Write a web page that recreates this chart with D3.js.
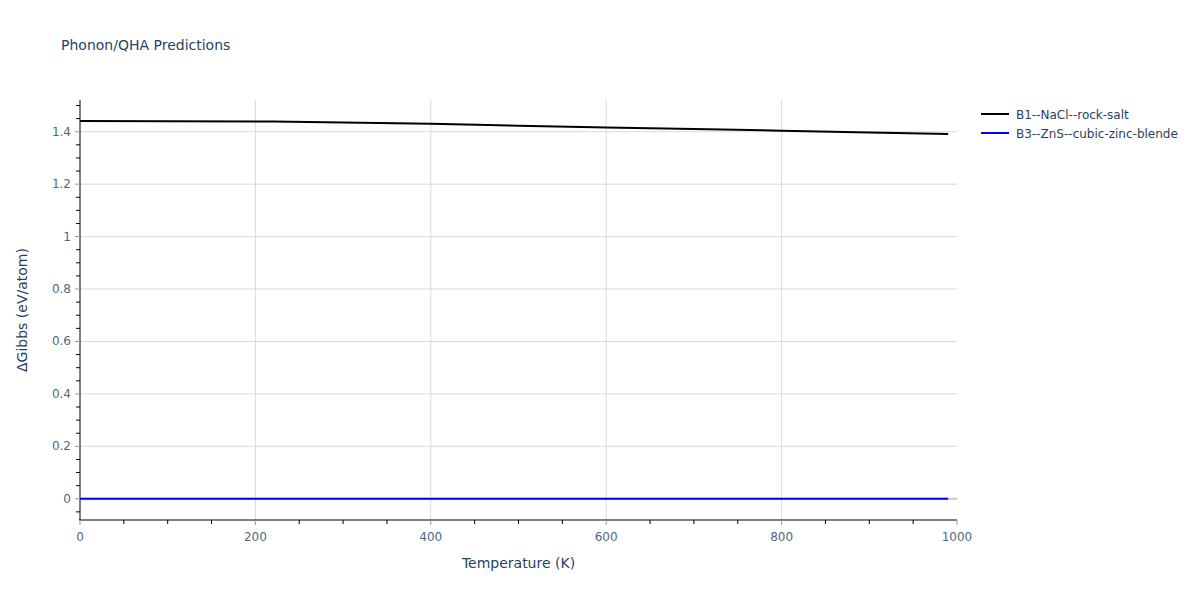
<!DOCTYPE html>
<html><head><meta charset="utf-8">
<script src="https://cdn.jsdelivr.net/npm/d3@7"></script>
<style>body{margin:0;background:#fff;font-family:"DejaVu Sans",Verdana,Arial,sans-serif;}</style>
</head><body><svg id="c" width="1200" height="600"></svg>
<script>
const temps = [0, 100, 220, 300, 400, 500, 600, 700, 800, 900, 990];
const rockSalt = [1.441, 1.440, 1.439, 1.435, 1.430, 1.423, 1.416, 1.410, 1.404, 1.397, 1.391];
const zincBlende = [0, 0, 0, 0, 0, 0, 0, 0, 0, 0, 0];
const seriesNames = ["B1--NaCl--rock-salt", "B3--ZnS--cubic-zinc-blende"];
const seriesColors = ["#000000", "#0000ff"];
const xTicks = [0, 200, 400, 600, 800, 1000];
const yTicks = [0, 0.2, 0.4, 0.6, 0.8, 1, 1.2, 1.4];

const svg = d3.select("#c").style("font-family", '"DejaVu Sans",Verdana,sans-serif');
const L = 80, R = 957, T = 100, B = 520;
const x = d3.scaleLinear().domain([0, 1000]).range([L, R]);
const y = d3.scaleLinear().domain([-0.081, 1.521]).range([B, T]);
const txt = "#2a3f5f", tick = "#506784";

// grid
svg.append("g").selectAll("line").data(xTicks.slice(1, -1)).join("line")
  .attr("x1", d => x(d)).attr("x2", d => x(d)).attr("y1", T).attr("y2", B)
  .attr("stroke", "#d9d9d9").attr("stroke-width", 1);
svg.append("g").selectAll("line").data(yTicks).join("line")
  .attr("x1", L).attr("x2", R).attr("y1", d => y(d)).attr("y2", d => y(d))
  .attr("stroke", d => d === 0 ? "#cccccc" : "#d9d9d9").attr("stroke-width", d => d === 0 ? 2 : 1);

// axes
const xMinor = d3.range(50, 1000, 50).filter(v => v % 200 !== 0);
const xAx = svg.append("g").attr("transform", `translate(0,${B})`);
xAx.append("line").attr("x1", L - 1).attr("x2", R).attr("stroke", "#000");
xAx.selectAll(".mn").data(xMinor).join("line").attr("class", "mn")
  .attr("x1", d => x(d)).attr("x2", d => x(d)).attr("y1", 0).attr("y2", 4).attr("stroke", "#000");
xAx.selectAll(".mj").data(xTicks).join("line").attr("class", "mj")
  .attr("x1", d => x(d)).attr("x2", d => x(d)).attr("y1", 0).attr("y2", 5).attr("stroke", "#999");
xAx.selectAll("text").data(xTicks).join("text")
  .attr("x", d => x(d)).attr("y", 21).attr("text-anchor", "middle")
  .attr("font-size", 12).attr("fill", tick).text(d => d3.format("d")(d));

const yMinor = d3.range(-0.05, 1.52, 0.05).map(v => +v.toFixed(2)).filter(v => !yTicks.some(t => Math.abs(t - v) < 1e-6));
const yAx = svg.append("g").attr("transform", `translate(${L},0)`);
yAx.append("line").attr("y1", T).attr("y2", B).attr("stroke", "#000");
yAx.selectAll(".mn").data(yMinor).join("line").attr("class", "mn")
  .attr("y1", d => y(d)).attr("y2", d => y(d)).attr("x1", 0).attr("x2", -4).attr("stroke", "#000");
yAx.selectAll(".mj").data(yTicks).join("line").attr("class", "mj")
  .attr("y1", d => y(d)).attr("y2", d => y(d)).attr("x1", 0).attr("x2", -5).attr("stroke", "#999");
yAx.selectAll("text").data(yTicks).join("text")
  .attr("x", -9).attr("y", d => y(d) + 4).attr("text-anchor", "end")
  .attr("font-size", 12).attr("fill", tick).text(d => d3.format("~g")(d));

// lines
const line = d3.line().x(d => x(d[0])).y(d => y(d[1]));
[rockSalt, zincBlende].forEach((vals, i) => {
  svg.append("path").datum(temps.map((t, j) => [t, vals[j]]))
    .attr("d", line).attr("fill", "none").attr("stroke", seriesColors[i]).attr("stroke-width", 2);
});

// titles
svg.append("text").attr("x", 61).attr("y", 50).attr("font-size", 14).attr("fill", txt).text("Phonon/QHA Predictions");
svg.append("text").attr("x", (L + R) / 2).attr("y", 568).attr("text-anchor", "middle")
  .attr("font-size", 14).attr("fill", txt).text("Temperature (K)");
svg.append("text").attr("transform", `translate(27,${(T + B) / 2}) rotate(-90)`).attr("text-anchor", "middle")
  .attr("font-size", 14).attr("fill", txt).text("ΔGibbs (eV/atom)");

// legend
const lg = svg.append("g").selectAll("g").data(seriesNames).join("g")
  .attr("transform", (d, i) => `translate(981,${114 + i * 19})`);
lg.append("line").attr("x1", 0).attr("x2", 28).attr("stroke", (d, i) => seriesColors[i]).attr("stroke-width", 2);
lg.append("text").attr("x", 35).attr("y", 4.5).attr("font-size", 12).attr("fill", txt).text(d => d);
</script></body></html>
